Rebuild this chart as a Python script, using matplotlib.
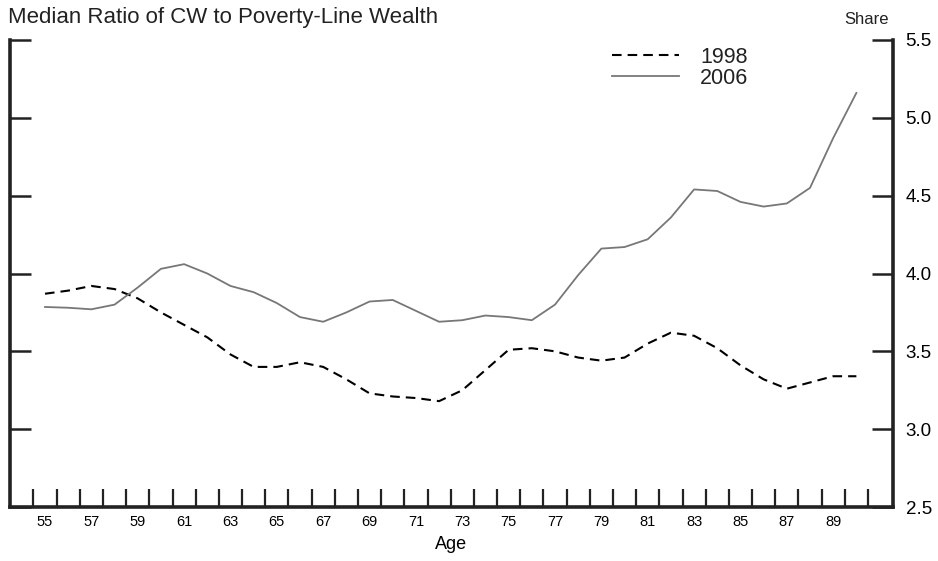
import matplotlib
matplotlib.use("Agg")
import matplotlib.pyplot as plt
import numpy as np

plt.rcParams['font.family'] = ['Liberation Sans', 'DejaVu Sans']

ages = list(range(55, 91))
y1998 = [3.87, 3.89, 3.92, 3.90, 3.84, 3.75, 3.67, 3.59, 3.48, 3.40,
         3.40, 3.43, 3.40, 3.32, 3.23, 3.21, 3.20, 3.18, 3.25, 3.38,
         3.51, 3.52, 3.50, 3.46, 3.44, 3.46, 3.55, 3.62, 3.60, 3.52,
         3.41, 3.32, 3.26, 3.30, 3.34, 3.34]
y2006 = [3.785, 3.78, 3.77, 3.80, 3.91, 4.03, 4.06, 4.00, 3.92, 3.88,
         3.81, 3.72, 3.69, 3.75, 3.82, 3.83, 3.76, 3.69, 3.70, 3.73,
         3.72, 3.70, 3.80, 3.99, 4.16, 4.17, 4.22, 4.36, 4.54, 4.53,
         4.46, 4.43, 4.45, 4.55, 4.87, 5.16]
xtick_labels = [str(a) for a in range(55, 90, 2)]
ytick_vals = [2.5, 3.0, 3.5, 4.0, 4.5, 5.0, 5.5]

W, H = 938, 561
fig = plt.figure(figsize=(W / 100, H / 100), dpi=100)
ax = fig.add_axes([10 / W, (H - 507) / H, (893 - 10) / W, (507 - 40) / H])

ax.plot(ages, y1998, color='black', lw=1.5, ls=(0, (4.6, 2.9)), label='1998')
ax.plot(ages, y2006, color='#777777', lw=1.3, label='2006')

ax.set_xlim(53.49, 91.58)
ax.set_ylim(2.5, 5.5)

# ticks on year boundaries, labels at year centres
ax.set_xticks(np.arange(54.5, 91, 1.0))
ax.set_xticklabels([])
ax.set_xticks(np.arange(55, 90, 2), minor=True)
ax.set_xticklabels(xtick_labels, minor=True, fontsize=10.5)
ax.tick_params(axis='x', which='major', direction='in', length=13, width=1.6, color='#222222')
ax.tick_params(axis='x', which='minor', length=0, pad=6)

ax.set_yticks(ytick_vals)
ax.set_yticklabels([f"{v:.1f}" for v in ytick_vals], fontsize=13.5)
ax.yaxis.tick_right()
ax.tick_params(axis='y', which='both', direction='in', length=15, width=1.8,
               color='#222222', left=True, right=True, labelleft=False, labelright=True, pad=9)

ax.spines['top'].set_visible(False)
for s in ['left', 'right', 'bottom']:
    ax.spines[s].set_linewidth(2.6)
    ax.spines[s].set_color('#222222')

ax.set_xlabel('Age', fontsize=13, labelpad=5)

fig.text(8 / W, 1 - 18 / H, 'Median Ratio of CW to Poverty-Line Wealth', fontsize=16,
         va='center', ha='left', color='#222222')
fig.text(867 / W, 1 - 20 / H, 'Share', fontsize=12, va='center', ha='center', color='#222222')

leg = ax.legend(loc='upper left', bbox_to_anchor=(612 / W, 1 - 47 / H),
                bbox_transform=fig.transFigure, frameon=False, fontsize=15.5,
                handlelength=3.1, handletextpad=1.0, labelspacing=0.0,
                borderaxespad=0, borderpad=0)
for t in leg.get_texts():
    t.set_color('#222222')

fig.savefig('out.png', dpi=100)
